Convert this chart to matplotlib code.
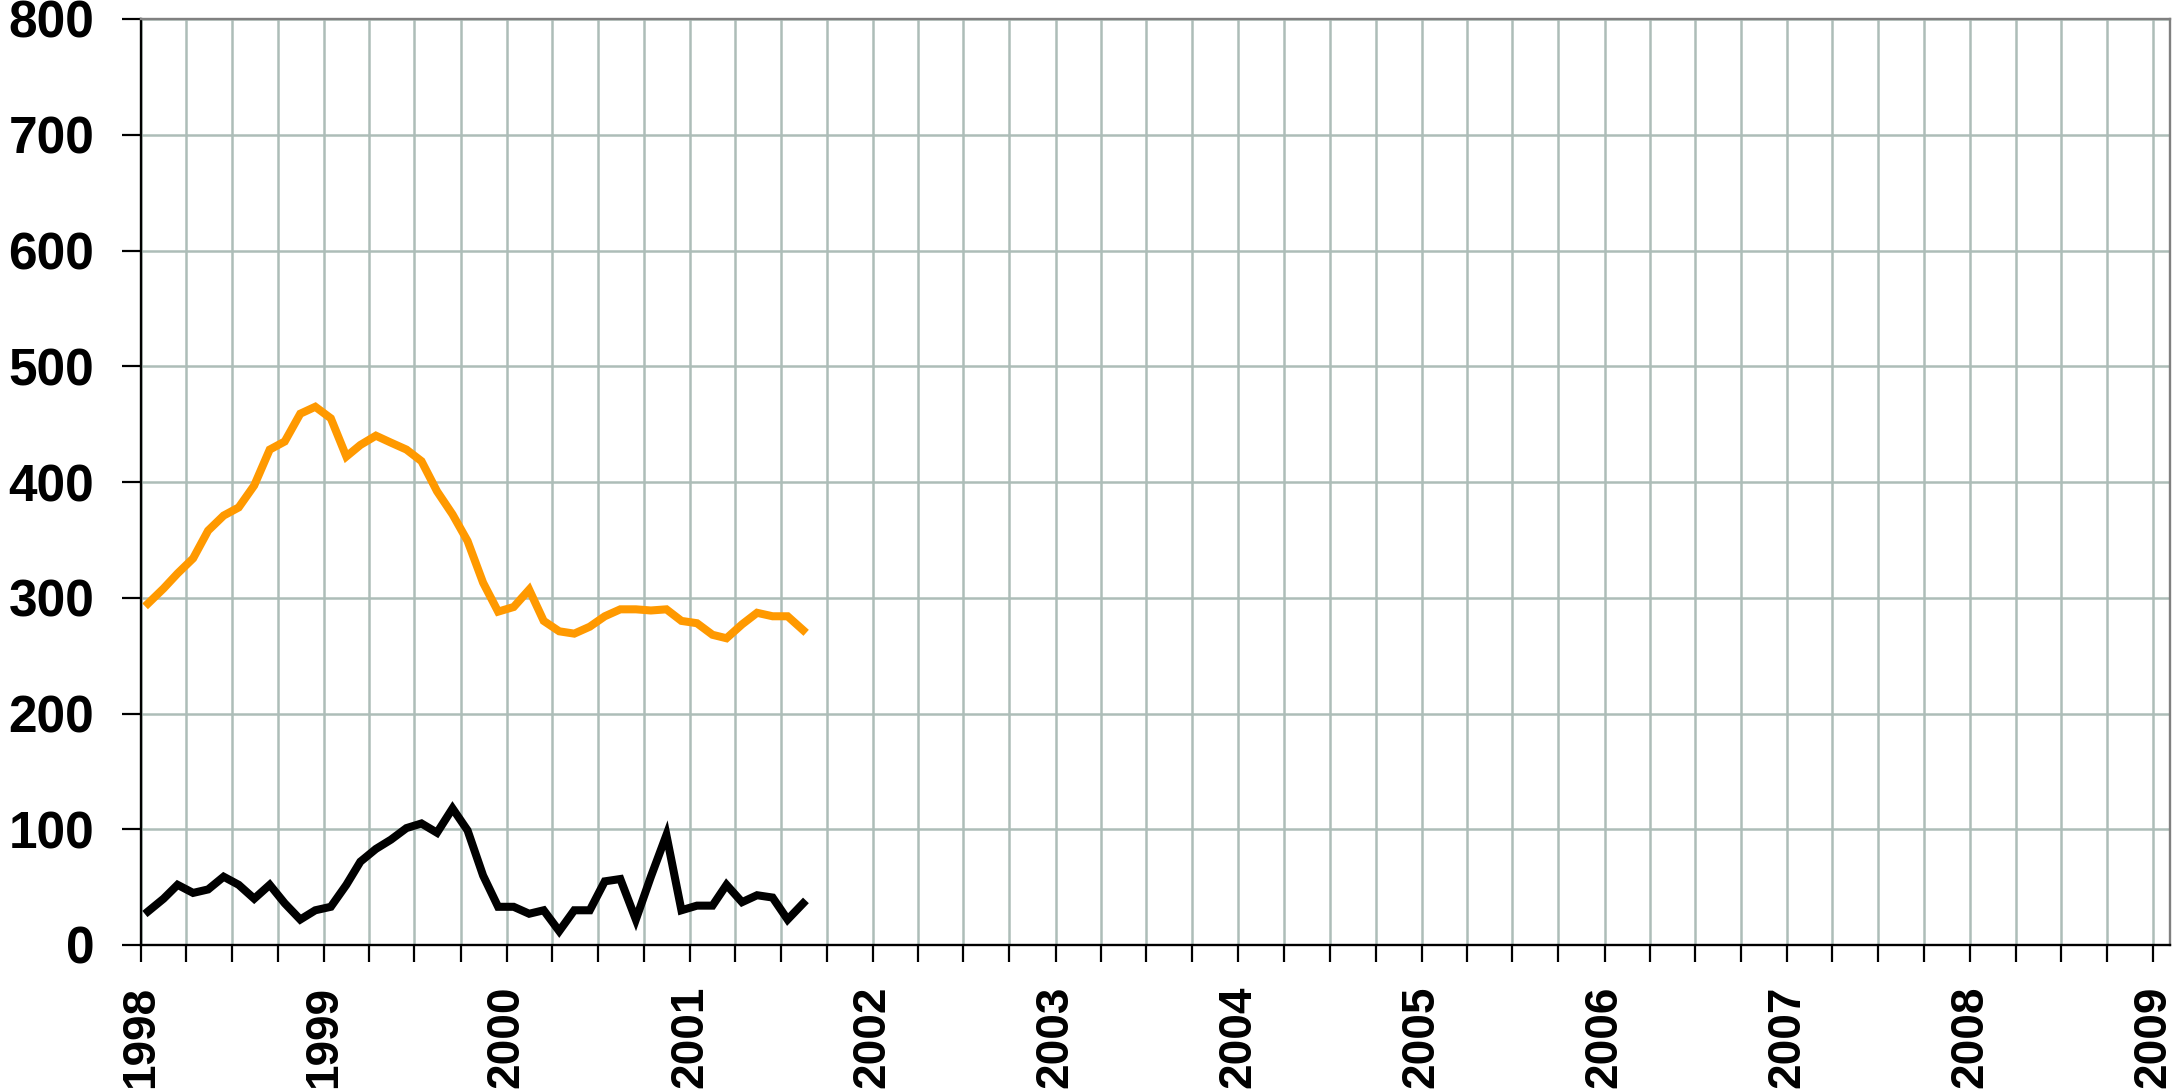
import matplotlib
matplotlib.use("Agg")
import matplotlib.pyplot as plt
import matplotlib.dates as mdates
import pandas as pd

# Monthly series, Jan 1998 - Aug 2001
start_month = "1998-01-01"
orange_values = [295, 308, 321, 334, 358, 371, 378, 397, 428, 435, 459, 465,
                 455, 422, 432, 440, 434, 428, 418, 392, 372, 349, 313, 288,
                 292, 307, 280, 271, 269, 275, 284, 290, 290, 289, 290, 280,
                 278, 268, 265, 277, 287, 284, 284, 272]
black_values = [29, 40, 52, 45, 48, 59, 52, 40, 52, 36, 22, 30,
                33, 52, 72, 83, 91, 101, 105, 97, 118, 99, 60, 33,
                33, 27, 30, 12, 30, 30, 55, 57, 22, 59, 95, 30,
                34, 34, 52, 37, 43, 41, 22, 36]
y_ticks = [0, 100, 200, 300, 400, 500, 600, 700, 800]
x_start, x_end = "1998-01-01", "2009-02-03"

dates = pd.date_range(start_month, periods=len(orange_values), freq="MS") + pd.Timedelta(days=14)

W, H, DPI = 2183, 1090, 100
fig = plt.figure(figsize=(W / DPI, H / DPI), dpi=DPI)
ax = fig.add_axes([141 / W, 1 - 945 / H, (2170 - 141) / W, (945 - 19) / H])

grid_c = "#adbdb8"
ax.plot(dates, orange_values, color="#FF9900", lw=5.8, solid_joinstyle="miter", zorder=3)
ax.plot(dates, black_values, color="#000000", lw=5.8, solid_joinstyle="miter", zorder=3)

ax.set_ylim(0, 800)
ax.set_yticks(y_ticks)
ax.set_xlim(pd.Timestamp(x_start), pd.Timestamp(x_end))
ax.xaxis.set_major_locator(mdates.MonthLocator(bymonth=[1, 4, 7, 10]))

def fmt(x, pos):
    d = mdates.num2date(x)
    return str(d.year) if d.month == 1 else ""

ax.xaxis.set_major_formatter(plt.FuncFormatter(fmt))

ax.grid(True, color=grid_c, lw=1.8, zorder=0)
ax.set_axisbelow(True)

for s in ["left", "bottom"]:
    ax.spines[s].set_color("black")
    ax.spines[s].set_linewidth(1.7)
for s in ["top", "right"]:
    ax.spines[s].set_color("#808080")
    ax.spines[s].set_linewidth(1.7)

ax.tick_params(axis="y", length=13.5, width=1.6, pad=20, labelsize=37)
ax.tick_params(axis="x", length=12.5, width=1.6, pad=17, labelsize=33, labelrotation=90)
for lab in ax.get_yticklabels() + ax.get_xticklabels():
    lab.set_fontweight("bold")
    lab.set_family(["Liberation Sans", "DejaVu Sans"])

fig.savefig("out.png", dpi=DPI, facecolor="white")
